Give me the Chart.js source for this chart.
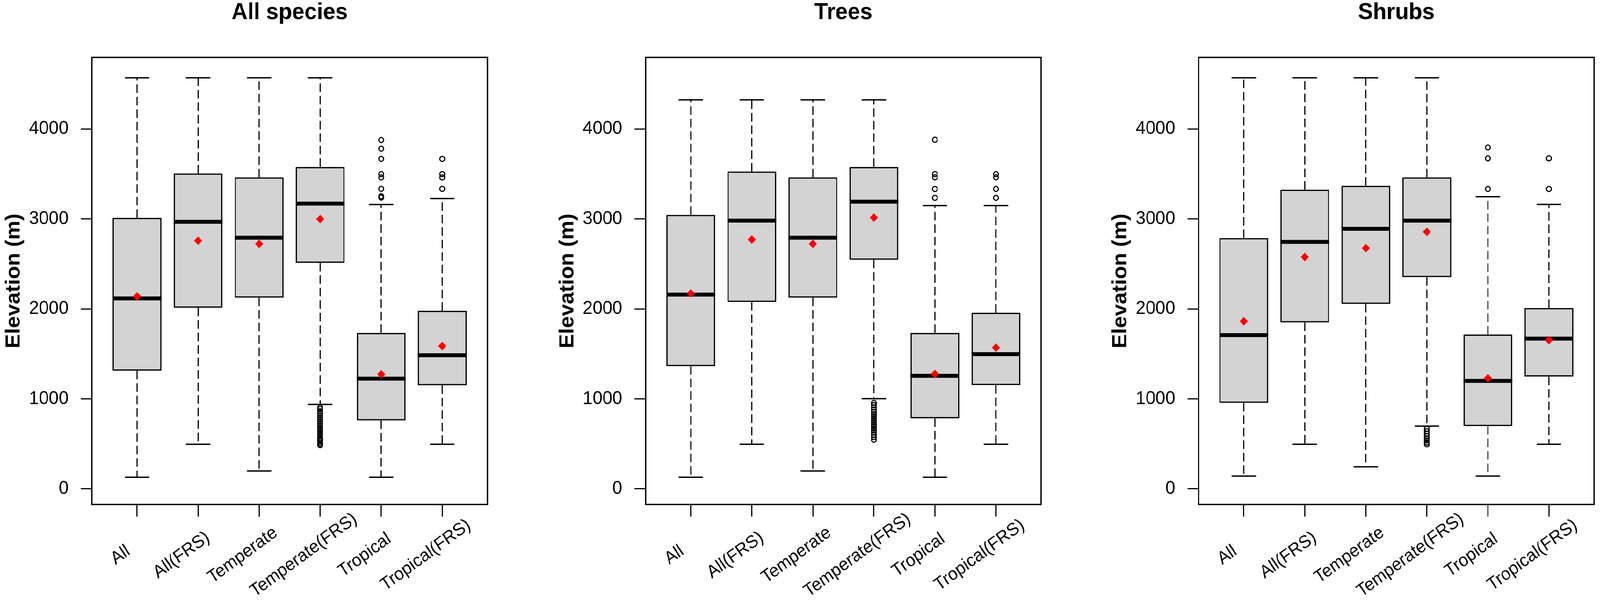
<!DOCTYPE html>
<html>
<head>
<meta charset="utf-8">
<script src="https://cdn.jsdelivr.net/npm/chart.js@4.4.1/dist/chart.umd.min.js"></script>
<style>
  html, body { margin: 0; padding: 0; background: #fff; overflow: hidden; }
  #wrap { position: relative; width: 4317px; height: 1552px; transform-origin: 0 0; }
  .panel { position: absolute; top: 0; width: 1331px; height: 1552px; }
</style>
</head>
<body>
<div id="wrap">
  <div class="panel" style="left:0px"><canvas id="c1" width="1331" height="1552"></canvas></div>
  <div class="panel" style="left:1494px"><canvas id="c2" width="1331" height="1552"></canvas></div>
  <div class="panel" style="left:2986px"><canvas id="c3" width="1331" height="1552"></canvas></div>
</div>
<script>
'use strict';
var categories = ['All', 'All(FRS)', 'Temperate', 'Temperate(FRS)', 'Tropical', 'Tropical(FRS)'];
var yTickValues = [0, 1000, 2000, 3000, 4000];

// All species
var allLow  = [129, 495, 198, 938, 129, 495];
var allQ1   = [1312, 2013, 2125, 2512, 760, 1151];
var allMed  = [2116, 2968, 2791, 3170, 1225, 1485];
var allQ3   = [3011, 3505, 3462, 3578, 1733, 1978];
var allHigh = [4568, 4568, 4568, 4568, 3160, 3226];
var allMean = [2138, 2757, 2723, 2998, 1273, 1587];
var allOut  = [[], [], [],
  [905, 888, 862, 838, 815, 790, 770, 745, 722, 700, 676, 655, 633, 610, 590, 566, 548, 530, 512, 495, 486],
  [3877, 3780, 3667, 3497, 3461, 3334, 3252, 3237],
  [3667, 3497, 3461, 3334]];

// Trees
var treeLow  = [129, 495, 198, 1002, 129, 495];
var treeQ1   = [1363, 2077, 2125, 2546, 783, 1153];
var treeMed  = [2159, 2981, 2791, 3191, 1256, 1497];
var treeQ3   = [3045, 3527, 3462, 3578, 1733, 1957];
var treeHigh = [4323, 4323, 4323, 4323, 3148, 3148];
var treeMean = [2172, 2770, 2723, 3015, 1277, 1570];
var treeOut  = [[], [], [],
  [955, 930, 905, 880, 855, 830, 808, 785, 762, 740, 716, 694, 670, 648, 625, 600, 575, 546],
  [3880, 3497, 3462, 3333, 3234],
  [3497, 3462, 3333, 3234]];

// Shrubs
var shrubLow  = [142, 495, 245, 697, 142, 495];
var shrubQ1   = [955, 1849, 2056, 2353, 697, 1247];
var shrubMed  = [1708, 2744, 2890, 2981, 1200, 1669];
var shrubQ3   = [2787, 3325, 3368, 3462, 1716, 2009];
var shrubHigh = [4568, 4568, 4568, 4568, 3247, 3161];
var shrubMean = [1862, 2576, 2675, 2856, 1230, 1652];
var shrubOut  = [[], [], [],
  [667, 640, 612, 585, 560, 538, 515, 495],
  [3794, 3673, 3333],
  [3673, 3333]];

Chart.defaults.font.family = '"Liberation Sans", Arial, sans-serif';
Chart.defaults.color = '#000';

function makePanel(id, title, low, q1, med, q3, high, mean, out) {
    var outPoints = [];
    out.forEach(function(list, i) {
        list.forEach(function(v) { outPoints.push({x: i + 1, y: v}); });
    });

    // whiskers, caps and medians go right after the boxes, frame and labels at the end
    var boxParts = {
        id: 'boxParts',
        afterDatasetDraw: function(chart, args) {
            if (args.index !== 2) return;
            var xs = chart.scales.x, ys = chart.scales.y, ctx = chart.ctx;
            function seg(x1, y1, x2, y2) {
                ctx.beginPath(); ctx.moveTo(x1, y1); ctx.lineTo(x2, y2); ctx.stroke();
            }
            ctx.save();
            ctx.strokeStyle = '#000';
            ctx.lineCap = 'butt';
            med.forEach(function(m, i) {
                var cx = xs.getPixelForValue(i + 1);
                var capHalf = xs.getPixelForValue(i + 1.2) - cx;
                var boxHalf = xs.getPixelForValue(i + 1.4) - cx;
                ctx.lineWidth = 3;
                ctx.setLineDash([22, 10]);
                seg(cx, ys.getPixelForValue(q3[i]), cx, ys.getPixelForValue(high[i]));
                seg(cx, ys.getPixelForValue(q1[i]), cx, ys.getPixelForValue(low[i]));
                ctx.setLineDash([]);
                ctx.lineWidth = 3.5;
                seg(cx - capHalf, ys.getPixelForValue(high[i]), cx + capHalf, ys.getPixelForValue(high[i]));
                seg(cx - capHalf, ys.getPixelForValue(low[i]), cx + capHalf, ys.getPixelForValue(low[i]));
                ctx.lineWidth = 10;
                seg(cx - boxHalf, ys.getPixelForValue(m), cx + boxHalf, ys.getPixelForValue(m));
            });
            ctx.restore();
        },
        afterDraw: function(chart) {
            var a = chart.chartArea, ctx = chart.ctx, xs = chart.scales.x;
            ctx.save();
            ctx.strokeStyle = '#000';
            ctx.lineWidth = 3.5;
            ctx.strokeRect(a.left, a.top, a.right - a.left, a.bottom - a.top);
            // rotated category labels, centred a bit left of each tick like the original
            ctx.fillStyle = '#000';
            ctx.font = '46px "Liberation Sans", Arial, sans-serif';
            ctx.textAlign = 'center';
            ctx.textBaseline = 'middle';
            categories.forEach(function(c, i) {
                ctx.save();
                ctx.translate(xs.getPixelForValue(i + 1 - 0.27), xs.top + 130);
                ctx.rotate(-35 * Math.PI / 180);
                ctx.fillText(c, 0, 0);
                ctx.restore();
            });
            ctx.restore();
        }
    };

    return new Chart(document.getElementById(id), {
        type: 'bar',
        data: {
            datasets: [{
                type: 'scatter',
                data: mean.map(function(v, i) { return {x: i + 1, y: v}; }),
                pointStyle: 'rectRot',
                pointRadius: 11,
                backgroundColor: '#FF0000',
                borderWidth: 0
            }, {
                type: 'scatter',
                data: outPoints,
                pointStyle: 'circle',
                pointRadius: 6.5,
                backgroundColor: 'rgba(0,0,0,0)',
                borderColor: '#000',
                borderWidth: 3
            }, {
                type: 'bar',
                data: q1.map(function(v, i) { return {x: i + 1, y: [v, q3[i]]}; }),
                backgroundColor: '#D3D3D3',
                borderColor: '#000',
                borderWidth: 3.5,
                borderSkipped: false,
                barPercentage: 1,
                categoryPercentage: 0.8
            }]
        },
        options: {
            responsive: false,
            devicePixelRatio: 1,
            animation: false,
            events: [],
            layout: { padding: { left: 0, right: 16, top: 0, bottom: 0 } },
            plugins: {
                legend: { display: false },
                tooltip: { enabled: false },
                title: {
                    display: true,
                    text: title,
                    fullSize: false,
                    color: '#000',
                    font: { size: 60, weight: 'bold', lineHeight: 1 },
                    padding: { top: 2, bottom: 85 }
                }
            },
            scales: {
                x: {
                    type: 'linear',
                    min: 0.26,
                    max: 6.74,
                    offset: false,
                    afterBuildTicks: function(axis) {
                        axis.ticks = categories.map(function(c, i) { return {value: i + 1}; });
                    },
                    afterFit: function(axis) { axis.height = 260; },
                    ticks: { display: false },
                    grid: { drawOnChartArea: false, offset: false, tickLength: 31, lineWidth: 3, color: '#000' },
                    border: { display: false }
                },
                y: {
                    min: -174,
                    max: 4795,
                    afterBuildTicks: function(axis) {
                        axis.ticks = yTickValues.map(function(v) { return {value: v}; });
                    },
                    afterFit: function(axis) { axis.width = 248; },
                    ticks: {
                        padding: 33,
                        color: '#000',
                        font: { size: 48 },
                        callback: function(v) { return String(v); }
                    },
                    grid: { drawOnChartArea: false, tickLength: 30, lineWidth: 3, color: '#000' },
                    border: { display: false },
                    title: {
                        display: true,
                        text: 'Elevation (m)',
                        color: '#000',
                        font: { size: 55, weight: 'bold', lineHeight: 1 },
                        padding: { top: 10, bottom: 0 }
                    }
                }
            }
        },
        plugins: [boxParts]
    });
}

var chart1 = makePanel('c1', 'All species', allLow, allQ1, allMed, allQ3, allHigh, allMean, allOut);
var chart2 = makePanel('c2', 'Trees', treeLow, treeQ1, treeMed, treeQ3, treeHigh, treeMean, treeOut);
var chart3 = makePanel('c3', 'Shrubs', shrubLow, shrubQ1, shrubMed, shrubQ3, shrubHigh, shrubMean, shrubOut);

// the window can be narrower than the 4317px figure; squeeze it so all three panels show
var sx = Math.min(1, window.innerWidth / 4317);
var sy = Math.min(1, window.innerHeight / 1552);
document.getElementById('wrap').style.transform = 'scale(' + sx + ',' + sy + ')';
</script>
</body>
</html>
